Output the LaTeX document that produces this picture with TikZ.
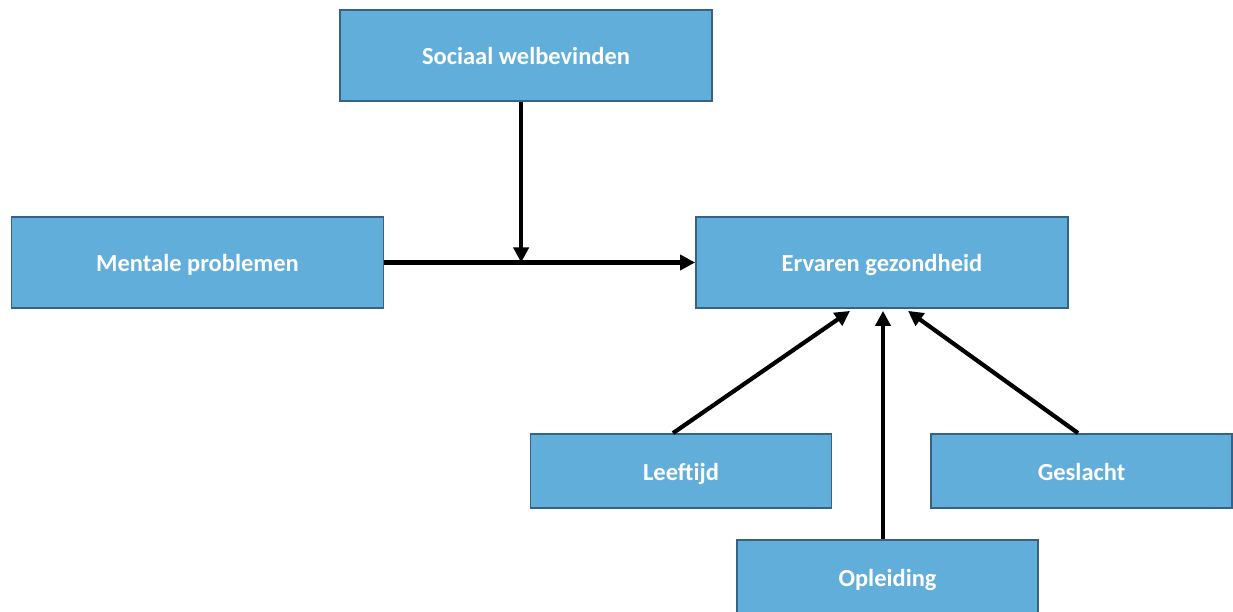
\documentclass[tikz,border=0pt]{standalone}
\usepackage{fontspec}
\setmainfont{Carlito}
\usetikzlibrary{positioning,calc,arrows.meta}
\definecolor{boxblue}{RGB}{97,174,219}
\definecolor{boxedge}{RGB}{54,98,135}

\begin{document}
\begin{tikzpicture}[x=1pt,y=-1pt,
  every node/.append style={font=\fontsize{24.5}{29}\selectfont\bfseries,text=white,
    text height=20pt,text depth=2pt},
  link/.style={-{Triangle[length=15pt,width=15pt]},line width=4.2pt,black}]
  \tikzstyle{factor} = [draw=boxedge,line width=1.8pt,fill=boxblue,inner sep=0pt]
  \tikzstyle{big} = [factor,minimum width=372pt,minimum height=91pt]
  \tikzstyle{small} = [factor,minimum width=301pt,minimum height=74pt]
  \useasboundingbox (0,0) rectangle (1233,612);
  % blokken
  \node (sociaal) [big] at (526,55.5) {Sociaal welbevinden};
  \node (mentaal) [big] at (197.5,262.5) {Mentale problemen};
  \node (ervaren) [big] at (882,262.5) {Ervaren gezondheid};
  \node (leeftijd) [small] at (681,471) {Leeftijd};
  \node (geslacht) [small] at (1081.5,471) {Geslacht};
  \node (opleiding) [small] at (887.5,577) {Opleiding};
  % pijlen
  \coordinate (kruis) at ($(mentaal.east)!0.44!(ervaren.west)$);
  \draw[link] (mentaal.east) -- (ervaren.west);
  \draw[link] (sociaal.south -| kruis) -- (kruis);
  \draw[link] ($(leeftijd.north)+(-8,0)$) -- ($(ervaren.south)+(-32,2)$);
  \draw[link] ($(opleiding.north)+(-4.5,0)$) -- ($(ervaren.south)+(1,2)$);
  \draw[link] ($(geslacht.north)+(-3.5,0)$) -- ($(ervaren.south)+(26,2)$);
\end{tikzpicture}
\end{document}
